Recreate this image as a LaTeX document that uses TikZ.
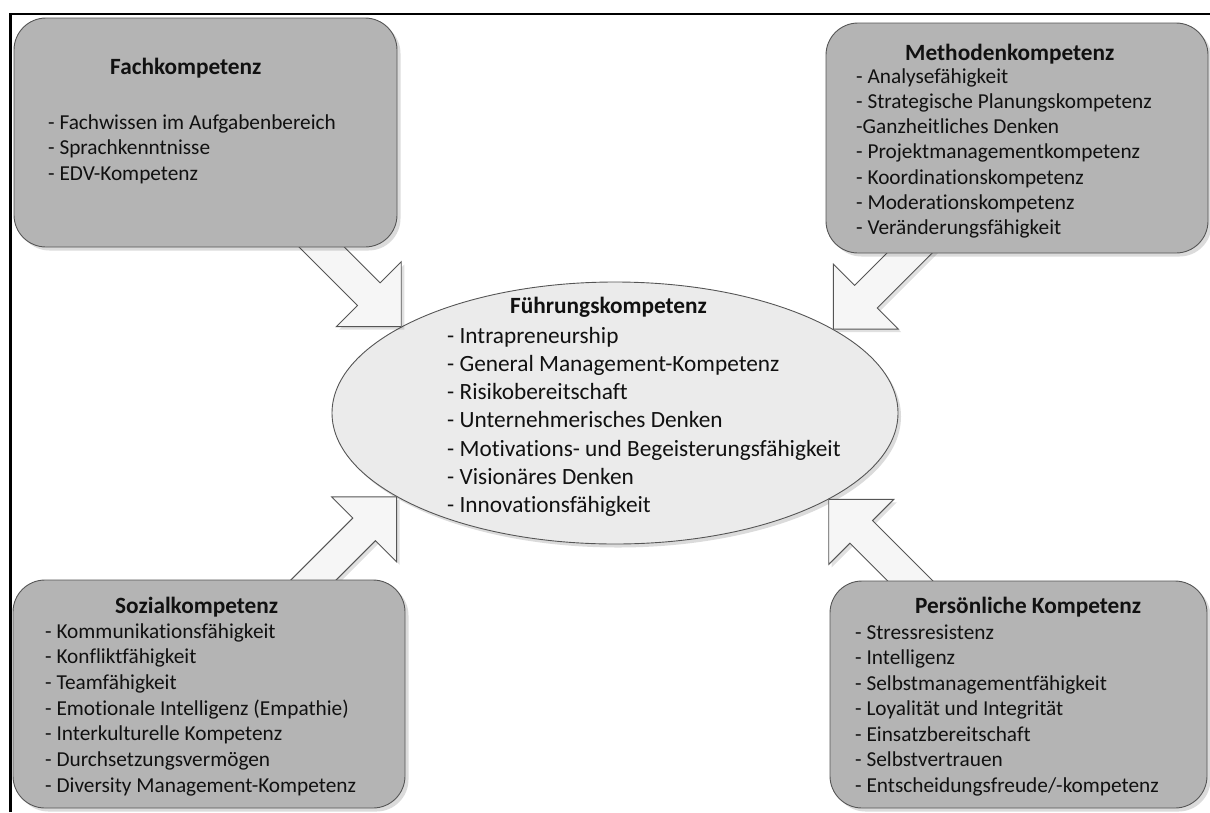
\documentclass[tikz,border=0pt]{standalone}
\usepackage{fontspec}
\setmainfont{Carlito}[Ligatures=NoCommon]
\usetikzlibrary{shapes.geometric,shadows}
\definecolor{boxgray}{HTML}{B4B4B4}
\definecolor{ellgray}{HTML}{EBEBEB}
\definecolor{arrowfill}{HTML}{F6F6F6}
\definecolor{edgegray}{HTML}{555555}
\definecolor{txt}{HTML}{111111}

% block arrow whose tip sits at #1 and which points in direction #2 (degrees)
\newcommand\blockarrow[2]{%
  \begin{scope}[shift={(#1)}, rotate=#2]
    \draw[blockarrow] (0,0) -- (-46,46) -- (-46,16) -- (-140,16)
      -- (-140,-16) -- (-46,-16) -- (-46,-46) -- cycle;
  \end{scope}}

\begin{document}
\begin{tikzpicture}[x=1pt,y=-1pt,
  compbox/.style={draw=edgegray, line width=0.9pt, fill=boxgray,
    rounded corners=32pt, inner sep=0pt,
    drop shadow={shadow xshift=3.5pt, shadow yshift=-3.5pt, fill=black, opacity=0.14}},
  centreell/.style={ellipse, draw=edgegray, line width=0.9pt, fill=ellgray,
    inner sep=0pt, minimum width=566pt, minimum height=262pt,
    drop shadow={shadow xshift=3pt, shadow yshift=-3.5pt, fill=black, opacity=0.14}},
  blockarrow/.style={draw=edgegray, line width=0.9pt, fill=arrowfill, line join=miter,
    drop shadow={shadow xshift=3pt, shadow yshift=-3pt, fill=black, opacity=0.12}},
  item/.style={anchor=base west, inner sep=0pt, text=txt,
    font=\fontsize{21.3pt}{25.5pt}\selectfont},
  bigitem/.style={anchor=base west, inner sep=0pt, text=txt,
    font=\fontsize{23.3pt}{28.3pt}\selectfont},
  heading/.style={anchor=base west, inner sep=0pt, text=txt,
    font=\fontsize{23.3pt}{28pt}\selectfont\bfseries}]

\useasboundingbox (0,0) rectangle (1210,812);

% frame along the top and left edge
\coordinate (frameB) at (10.5,812);
\coordinate (frameC) at (10.5,13.8);
\coordinate (frameR) at (1210,13.8);
\draw[line width=2.3pt] (frameB) -- (frameC) -- (frameR);

% central ellipse
\node[centreell] (fuehrung) at (615,413) {};

% block arrows from the four boxes to the ellipse
\blockarrow{fuehrung.158.5}{-45}
\blockarrow{fuehrung.21.5}{-135}
\blockarrow{fuehrung.201.5}{45}
\blockarrow{fuehrung.338.5}{135}

% four competence boxes
\node[compbox, minimum width=383pt, minimum height=229pt] (fach) at (205.5,132.5) {};
\node[compbox, minimum width=382pt, minimum height=230pt] (methode) at (1017,138) {};
\node[compbox, minimum width=392pt, minimum height=228pt] (sozial) at (209,694) {};
\node[compbox, minimum width=377pt, minimum height=227pt] (person) at (1018.5,694.5) {};

% Fachkompetenz
\node[heading] (fach-t) at (110,74) {Fachkompetenz};
\foreach \t [count=\i from 0] in {- Fachwissen im Aufgabenbereich, - Sprachkenntnisse, - EDV-Kompetenz}
  \node[item] (fach-\i) at (48,{129+25.5*\i}) {\t};

% Methodenkompetenz
\node[heading] (methode-t) at (905,60) {Methodenkompetenz};
\foreach \t [count=\i from 0] in {- Analysefähigkeit, - Strategische Planungskompetenz,
    -Ganzheitliches Denken, - Projektmanagementkompetenz, - Koordinationskompetenz,
    - Moderationskompetenz, - Veränderungsfähigkeit}
  \node[item] (methode-\i) at (856,{83+25.3*\i}) {\t};

% Sozialkompetenz
\node[heading] (sozial-t) at (115,613) {Sozialkompetenz};
\foreach \t [count=\i from 0] in {- Kommunikationsfähigkeit, - Konfliktfähigkeit, - Teamfähigkeit,
    - Emotionale Intelligenz (Empathie), - Interkulturelle Kompetenz,
    - Durchsetzungsvermögen, - Diversity Management-Kompetenz}
  \node[item] (sozial-\i) at (45,{638+25.7*\i}) {\t};

% Persönliche Kompetenz
\node[heading] (person-t) at (915,613) {Persönliche Kompetenz};
\foreach \t [count=\i from 0] in {- Stressresistenz, - Intelligenz, - Selbstmanagementfähigkeit,
    - Loyalität und Integrität, - Einsatzbereitschaft, - Selbstvertrauen,
    - Entscheidungsfreude/-kompetenz}
  \node[item] (person-\i) at (855,{639+25.5*\i}) {\t};

% Führungskompetenz
\node[heading] (fuehrung-t) at (510,313) {Führungskompetenz};
\foreach \t [count=\i from 0] in {- Intrapreneurship, - General Management-Kompetenz,
    - Risikobereitschaft, - Unternehmerisches Denken,
    - Motivations- und Begeisterungsfähigkeit, - Visionäres Denken, - Innovationsfähigkeit}
  \node[bigitem] (fuehrung-\i) at (447,{343+28.3*\i}) {\t};

\end{tikzpicture}
\end{document}
